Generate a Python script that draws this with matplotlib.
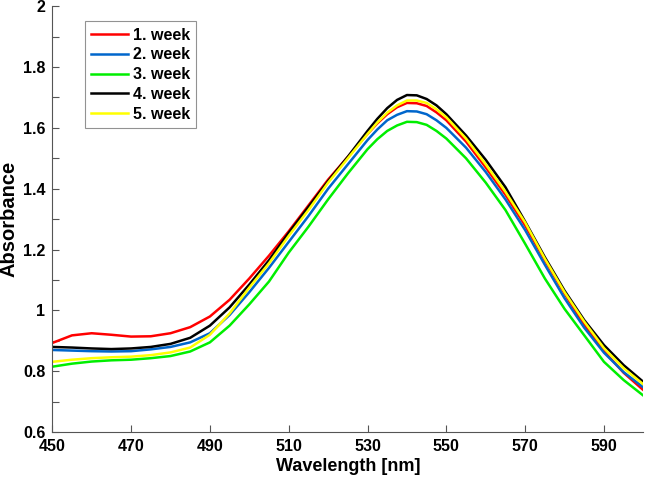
import numpy as np
import matplotlib.pyplot as plt
from matplotlib.ticker import FormatStrFormatter, MultipleLocator

plt.rcParams['font.family'] = ['Liberation Sans', 'DejaVu Sans']
plt.rcParams['font.weight'] = 'bold'

# wavelength (nm), a bit denser round the peak
wl = [450, 455, 460, 465, 470, 475, 480, 485, 490, 495, 500, 505, 510, 515,
      520, 525, 530, 532.5, 535, 537.5, 540, 542.5, 545, 547.5, 550, 555, 560,
      565, 570, 575, 580, 585, 590, 595, 600]

# absorbance
week1 = [0.893, 0.918, 0.925, 0.920, 0.914, 0.915, 0.925, 0.945, 0.980, 1.035,
         1.105, 1.180, 1.260, 1.345, 1.430, 1.505, 1.580, 1.615, 1.645, 1.668,
         1.682, 1.681, 1.672, 1.651, 1.625, 1.555, 1.470, 1.380, 1.279, 1.165,
         1.055, 0.953, 0.866, 0.795, 0.738]
week2 = [0.870, 0.868, 0.866, 0.865, 0.866, 0.872, 0.880, 0.895, 0.925, 0.985,
         1.060, 1.140, 1.225, 1.310, 1.400, 1.480, 1.560, 1.595, 1.625, 1.643,
         1.655, 1.654, 1.645, 1.625, 1.600, 1.535, 1.455, 1.365, 1.264, 1.150,
         1.040, 0.943, 0.861, 0.797, 0.747]
week3 = [0.815, 0.825, 0.832, 0.836, 0.838, 0.843, 0.850, 0.865, 0.895, 0.950,
         1.020, 1.095, 1.190, 1.275, 1.365, 1.450, 1.530, 1.563, 1.590, 1.608,
         1.620, 1.619, 1.610, 1.590, 1.565, 1.500, 1.420, 1.330, 1.219, 1.105,
         1.005, 0.918, 0.831, 0.771, 0.720]
week4 = [0.880, 0.878, 0.875, 0.873, 0.875, 0.880, 0.890, 0.910, 0.950, 1.010,
         1.085, 1.165, 1.255, 1.340, 1.425, 1.505, 1.590, 1.630, 1.665, 1.692,
         1.708, 1.707, 1.695, 1.674, 1.645, 1.575, 1.495, 1.405, 1.292, 1.175,
         1.065, 0.968, 0.886, 0.820, 0.765]
week5 = [0.831, 0.838, 0.843, 0.846, 0.848, 0.853, 0.862, 0.878, 0.920, 0.990,
         1.075, 1.155, 1.245, 1.330, 1.420, 1.500, 1.580, 1.618, 1.650, 1.674,
         1.690, 1.690, 1.682, 1.661, 1.635, 1.565, 1.480, 1.390, 1.289, 1.170,
         1.060, 0.963, 0.876, 0.810, 0.757]

labels = ['1. week', '2. week', '3. week', '4. week', '5. week']
colors = ['#ff0000', '#0066cc', '#00ee00', '#000000', '#ffff00']

fig = plt.figure(figsize=(6.45, 4.78), dpi=100)
ax = fig.add_axes([0.081, 0.096, 0.9165, 0.891])

for y, lab, c in zip([week1, week2, week3, week4, week5], labels, colors):
    ax.plot(wl, y, color=c, linewidth=1.8, label=lab)

ax.set_xlim(450, 600)
ax.set_ylim(0.6, 2)
ax.set_xticks(np.arange(450, 600, 20))
ax.yaxis.set_major_locator(MultipleLocator(0.2))
ax.yaxis.set_minor_locator(MultipleLocator(0.1))
ax.yaxis.set_major_formatter(FormatStrFormatter('%g'))
ax.tick_params(direction='in', length=5, width=0.8, colors='#555555',
               labelcolor='black', labelsize=11.5)
ax.tick_params(which='minor', direction='in', length=5, width=0.8, colors='#555555')
ax.tick_params(axis='x', pad=5)
ax.tick_params(axis='y', pad=5)

for s in ['top', 'right']:
    ax.spines[s].set_visible(False)
for s in ['left', 'bottom']:
    ax.spines[s].set_color('#555555')
    ax.spines[s].set_linewidth(0.8)

ax.set_xlabel('Wavelength [nm]', fontsize=13, fontweight='bold', labelpad=3)
ax.set_ylabel('Absorbance', fontsize=14.5, fontweight='bold', labelpad=3)

leg = ax.legend(loc='upper left', bbox_to_anchor=(0.055, 0.965), borderaxespad=0,
                fontsize=11.5, handlelength=2.3, handletextpad=0.3, labelspacing=0.3,
                fancybox=False, edgecolor='#777777', borderpad=0.4)
leg.get_frame().set_linewidth(0.8)

fig.savefig('out.png', dpi=100)
